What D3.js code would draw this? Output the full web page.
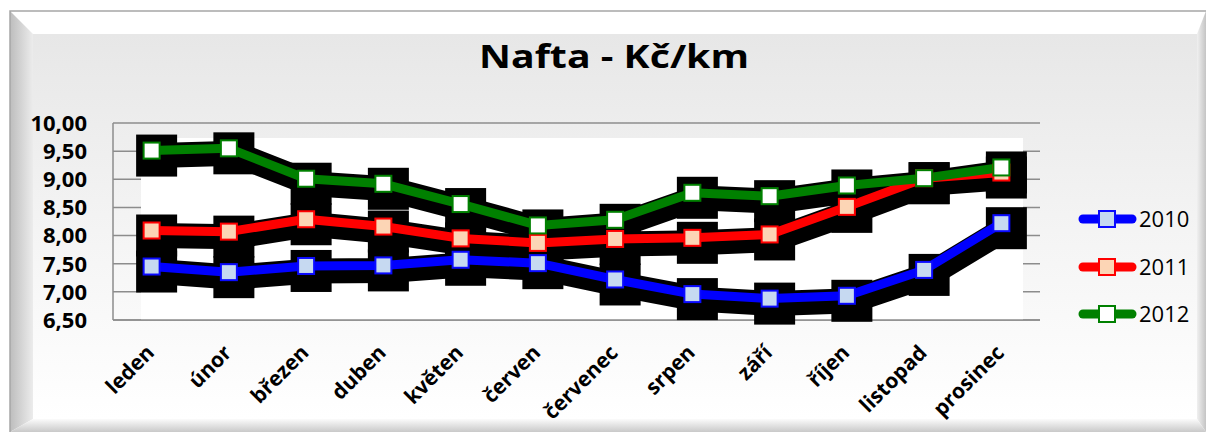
<!DOCTYPE html>
<html>
<head>
<meta charset="utf-8">
<script src="https://cdn.jsdelivr.net/npm/d3@7"></script>
<style>
  html, body { margin: 0; padding: 0; background: #ffffff; }
  svg { display: block; }
</style>
</head>
<body>
<svg id="chart" width="1208" height="435"></svg>
<script>
// Monthly diesel cost per km (Kč/km)
const months = ["leden", "únor", "březen", "duben", "květen", "červen",
                "červenec", "srpen", "září", "říjen", "listopad", "prosinec"];
const years = ["2010", "2011", "2012"];
const values2010 = [7.45, 7.35, 7.46, 7.47, 7.57, 7.51, 7.22, 6.96, 6.88, 6.93, 7.39, 8.22];
const values2011 = [8.09, 8.07, 8.29, 8.16, 7.95, 7.87, 7.94, 7.96, 8.02, 8.51, 9.02, 9.12];
const values2012 = [9.51, 9.55, 9.01, 8.92, 8.56, 8.18, 8.28, 8.76, 8.70, 8.89, 9.02, 9.21];
const yTicks = [6.5, 7.0, 7.5, 8.0, 8.5, 9.0, 9.5, 10.0];
const titleText = "Nafta - Kč/km";

const series = [
  { name: years[0], values: values2010, line: "#0000ff", fill: "#c6d9f1", edge: "#0a0aff" },
  { name: years[1], values: values2011, line: "#ff0000", fill: "#fcd5b5", edge: "#ff0000" },
  { name: years[2], values: values2012, line: "#008000", fill: "#ffffff", edge: "#008000" }
];

const czech = d3.formatLocale({ decimal: ",", thousands: " ", grouping: [3], currency: ["", " Kč"] });
const fmt = czech.format(".2f");

const svg = d3.select("#chart");
const defs = svg.append("defs");

// ---- frame with bevelled edges ----
const outer = { x0: 10, y0: 11, x1: 1206, y1: 432 };
const inner = { x0: 33, y0: 34, x1: 1197, y1: 419 };

const bgGrad = defs.append("linearGradient").attr("id", "bg").attr("x1", 0).attr("y1", 0).attr("x2", 0).attr("y2", 1);
bgGrad.append("stop").attr("offset", "0%").attr("stop-color", "#e7e7e7");
bgGrad.append("stop").attr("offset", "55%").attr("stop-color", "#f5f5f5");
bgGrad.append("stop").attr("offset", "100%").attr("stop-color", "#ffffff");

const leftGrad = defs.append("linearGradient").attr("id", "bevL").attr("x1", 0).attr("y1", 0).attr("x2", 1).attr("y2", 0);
leftGrad.append("stop").attr("offset", "0%").attr("stop-color", "#bdbdbd");
leftGrad.append("stop").attr("offset", "100%").attr("stop-color", "#ececec");

const rightGrad = defs.append("linearGradient").attr("id", "bevR").attr("x1", 0).attr("y1", 0).attr("x2", 1).attr("y2", 0);
rightGrad.append("stop").attr("offset", "0%").attr("stop-color", "#f0f0f0");
rightGrad.append("stop").attr("offset", "100%").attr("stop-color", "#c4c4c4");

const botGrad = defs.append("linearGradient").attr("id", "bevB").attr("x1", 0).attr("y1", 0).attr("x2", 0).attr("y2", 1);
botGrad.append("stop").attr("offset", "0%").attr("stop-color", "#fbfbfb");
botGrad.append("stop").attr("offset", "100%").attr("stop-color", "#c9c9c9");

const frame = svg.append("g");
frame.append("rect")
  .attr("x", inner.x0).attr("y", inner.y0)
  .attr("width", inner.x1 - inner.x0).attr("height", inner.y1 - inner.y0)
  .attr("fill", "url(#bg)");
const poly = pts => pts.map(p => p.join(",")).join(" ");
frame.append("polygon").attr("fill", "#ffffff")
  .attr("points", poly([[outer.x0, outer.y0], [outer.x1, outer.y0], [inner.x1, inner.y0], [inner.x0, inner.y0]]));
frame.append("polygon").attr("fill", "url(#bevL)")
  .attr("points", poly([[outer.x0, outer.y0], [inner.x0, inner.y0], [inner.x0, inner.y1], [outer.x0, outer.y1]]));
frame.append("polygon").attr("fill", "url(#bevR)")
  .attr("points", poly([[outer.x1, outer.y0], [outer.x1, outer.y1], [inner.x1, inner.y1], [inner.x1, inner.y0]]));
frame.append("polygon").attr("fill", "url(#bevB)")
  .attr("points", poly([[outer.x0, outer.y1], [inner.x0, inner.y1], [inner.x1, inner.y1], [outer.x1, outer.y1]]));
frame.append("path")
  .attr("d", `M${outer.x0},${outer.y1} V${outer.y0} H${outer.x1}`)
  .attr("fill", "none").attr("stroke", "#a6a6a6").attr("stroke-width", 1.5);

// ---- title ----
svg.append("text")
  .attr("x", 614).attr("y", 68)
  .attr("text-anchor", "middle")
  .attr("font-family", "'Open Sans', sans-serif")
  .attr("font-weight", 700)
  .attr("font-size", 32)
  .attr("textLength", 270)
  .attr("lengthAdjust", "spacingAndGlyphs")
  .attr("fill", "#000")
  .text(titleText);

// ---- scales ----
const plot = { left: 113, right: 1040, top: 123, bottom: 320 };
const x = d3.scaleBand().domain(months).range([plot.left, plot.right]);
const cx = m => x(m) + x.bandwidth() / 2;
const y = d3.scaleLinear().domain([6.5, 10]).range([plot.bottom, plot.top]);

// gridlines and value axis
const grid = svg.append("g");
grid.selectAll("line.grid").data(yTicks).join("line")
  .attr("x1", plot.left).attr("x2", plot.right)
  .attr("y1", d => y(d)).attr("y2", d => y(d))
  .attr("stroke", "#8c8c8c").attr("stroke-width", 1.5);
grid.append("line")
  .attr("x1", plot.left).attr("x2", plot.left)
  .attr("y1", plot.top).attr("y2", plot.bottom)
  .attr("stroke", "#8c8c8c").attr("stroke-width", 1.5);

// inner plotting surface
svg.append("rect")
  .attr("x", 141).attr("y", 138)
  .attr("width", 1023 - 141).attr("height", plot.bottom - 138)
  .attr("fill", "#ffffff");
svg.append("line")
  .attr("x1", plot.left).attr("x2", plot.right)
  .attr("y1", plot.bottom).attr("y2", plot.bottom)
  .attr("stroke", "#8c8c8c").attr("stroke-width", 1.5);

// y tick labels
svg.append("g").selectAll("text").data(yTicks).join("text")
  .attr("x", 87).attr("y", d => y(d))
  .attr("dy", "0.36em")
  .attr("text-anchor", "end")
  .attr("font-family", "'Open Sans', sans-serif")
  .attr("font-weight", 700)
  .attr("font-size", 22)
  .attr("fill", "#000")
  .text(d => fmt(d));

// x category labels, rotated
svg.append("g").selectAll("text").data(months).join("text")
  .attr("transform", d => `translate(${cx(d) + 4},${354}) rotate(-45)`)
  .attr("text-anchor", "end")
  .attr("font-family", "'Open Sans', sans-serif")
  .attr("font-weight", 700)
  .attr("font-size", 21)
  .attr("fill", "#000")
  .text(d => d);

// ---- series ----
const line = d3.line().x((d, i) => cx(months[i])).y(d => y(d));

// drop shadows
const shadow = svg.append("g").attr("transform", "translate(5,5)");
series.forEach(s => {
  shadow.append("path")
    .attr("d", line(s.values))
    .attr("fill", "none").attr("stroke", "#000")
    .attr("stroke-width", 25).attr("stroke-linejoin", "miter");
  shadow.selectAll(null).data(s.values).join("rect")
    .attr("x", (d, i) => cx(months[i]) - 20.5)
    .attr("y", d => y(d) - 21)
    .attr("width", 41).attr("height", 42)
    .attr("fill", "#000");
});

// lines and markers
const marks = svg.append("g");
series.forEach(s => {
  marks.append("path")
    .attr("d", line(s.values))
    .attr("fill", "none").attr("stroke", s.line)
    .attr("stroke-width", 9).attr("stroke-linejoin", "round");
});
series.forEach(s => {
  marks.selectAll(null).data(s.values).join("rect")
    .attr("x", (d, i) => cx(months[i]) - 8)
    .attr("y", d => y(d) - 8)
    .attr("width", 16).attr("height", 16)
    .attr("fill", s.fill).attr("stroke", s.edge).attr("stroke-width", 2);
});

// ---- legend ----
const legendY = [219, 267, 314];
const legend = svg.append("g");
series.forEach((s, i) => {
  const g = legend.append("g").attr("transform", `translate(0,${legendY[i]})`);
  g.append("line")
    .attr("x1", 1083).attr("x2", 1132)
    .attr("stroke", s.line).attr("stroke-width", 9).attr("stroke-linecap", "round");
  g.append("rect")
    .attr("x", 1099).attr("y", -8).attr("width", 16).attr("height", 16)
    .attr("fill", s.fill).attr("stroke", s.edge).attr("stroke-width", 2);
  g.append("text")
    .attr("x", 1139).attr("y", 0).attr("dy", "0.36em")
    .attr("font-family", "'Open Sans', sans-serif")
    .attr("font-size", 22)
    .attr("fill", "#000")
    .text(s.name);
});
</script>
</body>
</html>
